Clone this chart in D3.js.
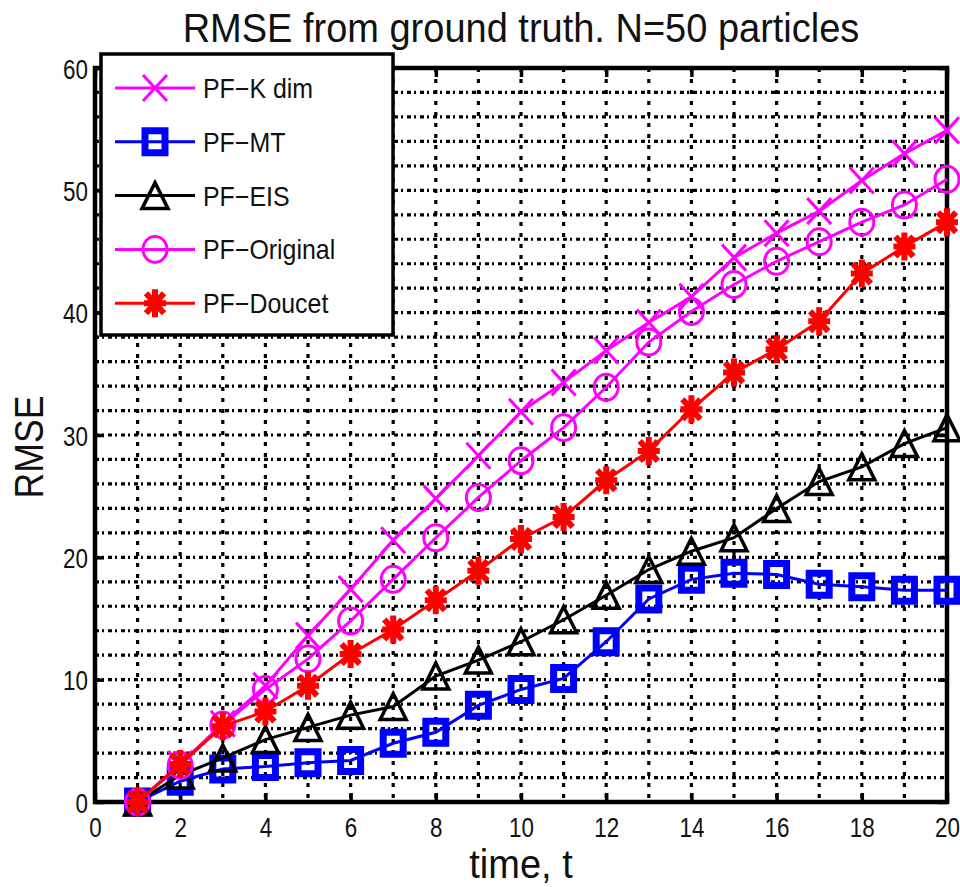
<!DOCTYPE html>
<html lang="en">
<head>
<meta charset="utf-8">
<script src="https://d3js.org/d3.v7.min.js"></script>
<style>
body { margin: 0; background: #fff; }
text { font-family: "Liberation Sans", Arial, sans-serif; fill: #000; }
</style>
</head>
<body>
<script>

// time steps and RMSE values
var steps = d3.range(1, 21);
var kdim     = [0, 3.1, 6.4, 9.5, 13.6, 17.4, 21.4, 24.8, 28.3, 31.9, 34.3, 36.9, 39.2, 41.3, 44.5, 46.5, 48.3, 50.8, 53.0, 54.9];
var mt       = [0, 1.7, 2.7, 2.9, 3.2, 3.4, 4.8, 5.7, 7.9, 9.2, 10.1, 13.1, 16.6, 18.2, 18.7, 18.6, 17.8, 17.6, 17.3, 17.3];
var eis      = [0, 2.2, 3.6, 5.1, 6.1, 7.1, 7.8, 10.3, 11.6, 13.1, 14.9, 16.9, 19.0, 20.5, 21.6, 24.0, 26.2, 27.4, 29.3, 30.6];
var original = [0, 3.0, 6.3, 9.2, 11.7, 14.8, 18.2, 21.6, 24.9, 27.9, 30.6, 33.9, 37.6, 40.1, 42.3, 44.2, 45.8, 47.4, 48.8, 50.9];
var doucet   = [0, 3.1, 6.2, 7.4, 9.5, 12.1, 14.1, 16.5, 18.9, 21.5, 23.3, 26.3, 28.7, 32.1, 35.1, 37.0, 39.3, 43.2, 45.4, 47.4];

var seriesNames = ["PF\u2212K dim", "PF\u2212MT", "PF\u2212EIS", "PF\u2212Original", "PF\u2212Doucet"];
var seriesData = [kdim, mt, eis, original, doucet];
var seriesColors = ["#ff00ff", "#0000ff", "#000000", "#ff00ff", "#ff0000"];
var seriesMarkers = ["cross", "square", "triangle", "circle", "star"];

var xTicks = d3.range(0, 21, 2);
var yTicks = d3.range(0, 61, 10);

var width = 960, height = 887;
var svg = d3.select("body").append("svg")
	.attr("width", width)
	.attr("height", height);

var x = d3.scaleLinear().domain([0, 20]).range([95, 947]);
var y = d3.scaleLinear().domain([0, 60]).range([802, 68]);

// dotted grid: every step on x, every 2 on y
var grid = svg.append("g");
grid.selectAll("line.gx")
	.data(d3.range(1, 20))
	.enter().append("line")
	.attr("x1", d => x(d)).attr("x2", d => x(d))
	.attr("y1", y(60)).attr("y2", y(0))
	.style("stroke", "#000").style("stroke-width", 3.2)
	.style("stroke-dasharray", "4,7");
grid.selectAll("line.gy")
	.data(d3.range(2, 60, 2))
	.enter().append("line")
	.attr("x1", x(0)).attr("x2", x(20))
	.attr("y1", d => y(d)).attr("y2", d => y(d))
	.style("stroke", "#000").style("stroke-width", 3.2)
	.style("stroke-dasharray", "4,3,2,4");

// axes (ticks pointing inwards, box style)
var gx = svg.append("g").attr("transform", "translate(0," + y(0) + ")")
	.call(d3.axisBottom(x).tickValues(xTicks).tickSizeInner(-9).tickSizeOuter(0).tickFormat(d3.format("d")));
var gxTop = svg.append("g").attr("transform", "translate(0," + y(60) + ")")
	.call(d3.axisTop(x).tickValues(xTicks).tickSizeInner(-9).tickSizeOuter(0).tickFormat(""));
var gy = svg.append("g").attr("transform", "translate(" + x(0) + ",0)")
	.call(d3.axisLeft(y).tickValues(yTicks).tickSizeInner(-9).tickSizeOuter(0).tickFormat(d3.format("d")));
var gyRight = svg.append("g").attr("transform", "translate(" + x(20) + ",0)")
	.call(d3.axisRight(y).tickValues(yTicks).tickSizeInner(-9).tickSizeOuter(0).tickFormat(""));

[gx, gxTop, gy, gyRight].forEach(function(g) {
	g.select(".domain").remove();
	g.selectAll(".tick line").style("stroke", "#000").style("stroke-width", 3.5);
});

gx.selectAll(".tick text")
	.attr("y", 35).attr("dy", 0)
	.style("font-size", "28px")
	.attr("transform", "scale(0.8,1)");
gy.selectAll(".tick text")
	.attr("x", -7 / 0.8).attr("dy", 0).attr("y", 10)
	.style("font-size", "28px")
	.attr("transform", "scale(0.8,1)");
svg.selectAll(".tick text").style("font-family", "'Liberation Sans', Arial, sans-serif").style("fill", "#111");

svg.append("rect")
	.attr("x", x(0)).attr("y", y(60))
	.attr("width", x(20) - x(0)).attr("height", y(0) - y(60))
	.style("fill", "none").style("stroke", "#000").style("stroke-width", 4.5);

// marker shapes
var markerPath = {
	cross: "M-12,-13L12,13M-12,13L12,-13",
	square: "M-10,-11H10V11H-10Z",
	triangle: "M0,-13L13,13H-13Z",
	circle: "M-12,0A12,13 0 1,0 12,0A12,13 0 1,0 -12,0Z",
	star: "M0,-14V14M-11,0H11M-9,-10L9,10M-9,10L9,-10"
};
var markerWidth = { cross: 3, square: 7, triangle: 3.5, circle: 3, star: 6 };

function drawMarker(g, type, color) {
	g.append("path")
		.attr("d", markerPath[type])
		.style("fill", "none")
		.style("stroke", color)
		.style("stroke-width", markerWidth[type]);
}

var line = d3.line()
	.x(d => x(d[0]))
	.y(d => y(d[1]));

seriesData.forEach(function(vals, i) {
	var pts = steps.map((s, j) => [s, vals[j]]);
	var g = svg.append("g");
	g.append("path")
		.datum(pts)
		.attr("d", line)
		.style("fill", "none")
		.style("stroke", seriesColors[i])
		.style("stroke-width", 3);
	g.selectAll("g.m")
		.data(pts)
		.enter().append("g")
		.attr("transform", d => "translate(" + x(d[0]) + "," + y(d[1]) + ")")
		.each(function() { drawMarker(d3.select(this), seriesMarkers[i], seriesColors[i]); });
});

// legend
var legend = svg.append("g");
legend.append("rect")
	.attr("x", 101).attr("y", 54)
	.attr("width", 292).attr("height", 281)
	.style("fill", "#fff").style("stroke", "#000").style("stroke-width", 3.5);

seriesNames.forEach(function(name, i) {
	var ly = 88 + i * 53.8;
	legend.append("line")
		.attr("x1", 115).attr("x2", 195)
		.attr("y1", ly).attr("y2", ly)
		.style("stroke", seriesColors[i]).style("stroke-width", 3);
	var m = legend.append("g").attr("transform", "translate(155," + ly + ")");
	drawMarker(m, seriesMarkers[i], seriesColors[i]);
	legend.append("text")
		.attr("transform", "translate(203," + (ly + 10) + ") scale(0.89,1)")
		.style("font-size", "28px")
		.style("fill", "#111")
		.text(name);
});

// titles
svg.append("text")
	.attr("transform", "translate(521,42) scale(0.95,1)")
	.attr("text-anchor", "middle")
	.style("font-size", "40px")
	.style("fill", "#111")
	.text("RMSE from ground truth. N=50 particles");

svg.append("text")
	.attr("transform", "translate(521,878) scale(0.95,1)")
	.attr("text-anchor", "middle")
	.style("font-size", "40px")
	.style("fill", "#111")
	.text("time, t");

svg.append("text")
	.attr("transform", "translate(43,447) rotate(-90) scale(0.89,1)")
	.attr("text-anchor", "middle")
	.style("font-size", "40px")
	.style("fill", "#111")
	.text("RMSE");

</script>
</body>
</html>
